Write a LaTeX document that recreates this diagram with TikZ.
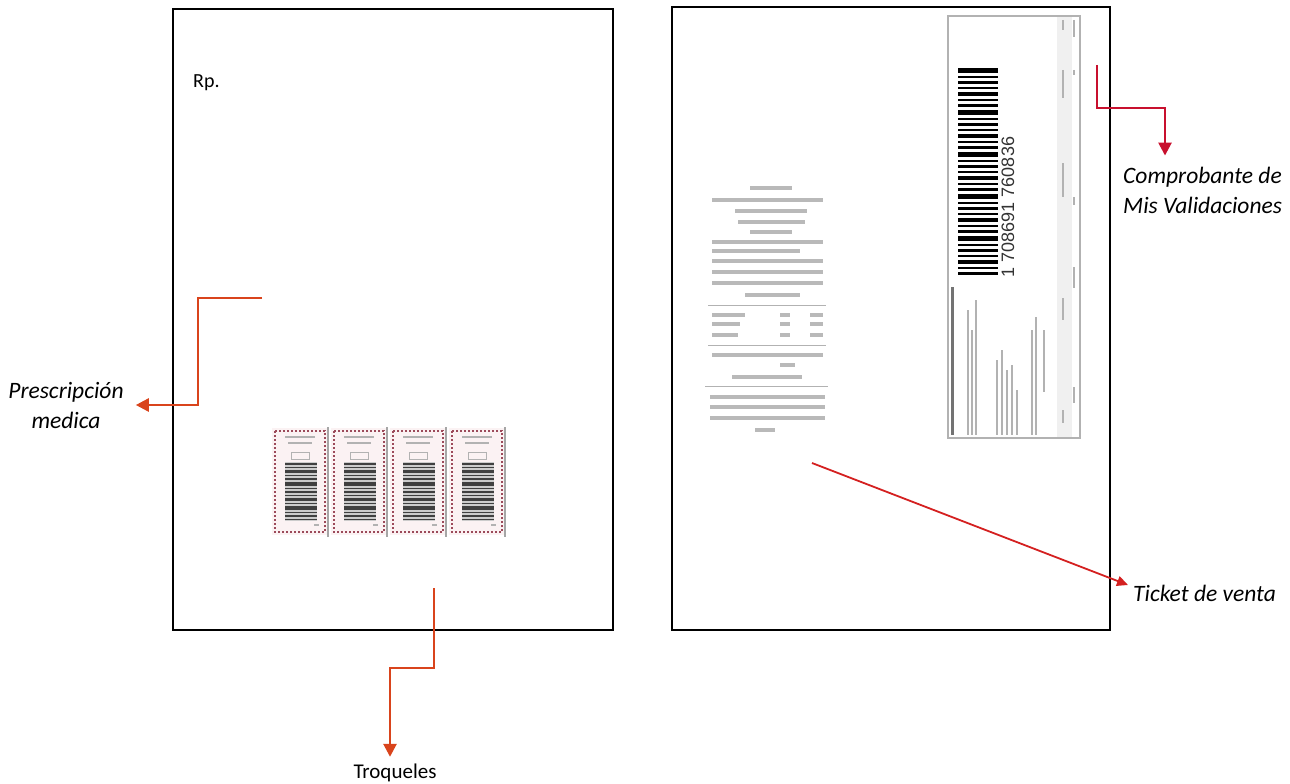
\documentclass[tikz,border=0pt]{standalone}
\usepackage{fontspec}
\setmainfont{Carlito}
\newfontfamily\numfont{Liberation Sans}
\usetikzlibrary{calc}
\usetikzlibrary{positioning}
\usetikzlibrary{arrows.meta}
\definecolor{arroworange}{HTML}{D9441C}
\definecolor{arrowred}{HTML}{C8102E}
\definecolor{ticketred}{HTML}{D42020}
\definecolor{troqborder}{HTML}{9C4A5A}
\definecolor{troqfill}{HTML}{FBF2F3}

\begin{document}
\begin{tikzpicture}[x=1pt, y=-1pt, >={Triangle[length=13pt,width=13pt]},
  sheet/.style={draw=black, line width=1.4pt},
  pointer/.style={->, line width=2.6pt, arroworange},
  callout/.style={font=\fontsize{23.5}{30}\selectfont\itshape, inner sep=0pt},
  textbar/.style={line width=3.5pt, gray!55},
  vbar/.style={line width=2pt, gray!60}]
\useasboundingbox (0,0) rectangle (1290,784);
\draw[sheet] (173,9) rectangle (613,630);
\draw[sheet] (672,7) rectangle (1110,630);
\node[anchor=west, font=\fontsize{20}{24}\selectfont, inner sep=0pt] (rp) at (193,83) {Rp.};

\foreach \i in {0,...,3}{
  \begin{scope}[xshift=59*\i]
    \fill[troqfill] (272,428) rectangle (328,535);
    \draw[troqborder, line width=2pt, dash pattern=on 2pt off 2pt] (275,431) rectangle (325,532);
    \draw[gray!70, line width=1.2pt] (328,427) -- (328,537);
    \draw[gray!60, line width=1.5pt] (285,437) -- (315,437);
    \draw[gray!60, line width=1.5pt] (288,443) -- (312,443);
    \draw[gray!60, line width=0.8pt] (291,452) rectangle (309,459);
    \fill[gray!40] (285,462) rectangle (317,521);
    \foreach \yy/\w in {463/2,467/1,470/3,475/1,478/2,482/4,488/1,491/2,495/1,498/3,503/1,506/4,512/1,515/2,519/1}
      \fill[black!75] (285,\yy) rectangle (317,\yy+\w);
    \draw[gray!60, line width=1.5pt] (314,525) -- (319,525);
  \end{scope}
}

\foreach \yy/\xa/\xb in {188/750/792, 200/712/823, 211/735/807, 222/738/805, 232/750/792,
    242/712/823, 251/712/800, 261/712/823, 272/712/823, 283/712/823, 295/745/800,
    315/712/745, 315/780/790, 315/810/823, 324/712/740, 324/780/790, 324/810/823,
    335/712/738, 335/780/790, 335/810/823, 355/712/823, 365/780/795, 377/732/802,
    397/710/825, 407/710/825, 418/710/825, 430/755/775}
  \draw[textbar] (\xa,\yy) -- (\xb,\yy);
\draw[gray!60, line width=1pt] (708,305) -- (826,305);
\draw[gray!60, line width=1pt] (708,345) -- (826,345);
\draw[gray!60, line width=1pt] (705,386) -- (828,386);

\fill[gray!12] (1057,17) rectangle (1072,437);
\draw[gray!60, line width=1.5pt] (948,16) rectangle (1080,438);
\foreach \yy/\w in {68/5,76/2,81/3,87/2,92/4,99/2,104/3,110/5,118/2,123/3,129/2,134/4,141/2,
    146/3,152/5,160/2,165/3,171/2,176/4,183/2,188/3,194/5,202/2,207/3,213/2,218/4,225/2,
    230/3,236/5,244/2,249/3,255/2,260/4,267/2,272/3}
  \fill[black] (958,\yy) rectangle (998,\yy+\w);
\node[rotate=90, font=\numfont\fontsize{18}{18}\selectfont, text=black!80, inner sep=0pt] (barnum) at (1008,207) {1 708691 760836};
\draw[vbar, line width=3pt, black!55] (952,287) -- (952,435);
\foreach \xx/\ya/\yb in {968/310/435, 972/330/435, 976/300/435, 997/360/435, 1002/350/435,
    1007/370/435, 1012/365/435, 1017/390/435, 1032/330/435, 1036/317/435, 1044/330/392,
    1063/20/30, 1063/70/98, 1063/163/197, 1063/298/320, 1063/410/423,
    1074/20/37, 1074/70/75, 1074/197/205, 1074/267/288, 1074/387/403}
  \draw[vbar] (\xx,\ya) -- (\xx,\yb);

\coordinate (prescstart) at (262,298);
\node[callout, align=center] (presc) at (66,405) {Prescripción\\medica};
\draw[pointer, shorten >=12pt] (prescstart) -| (198,405) -- (presc.east);

\coordinate (troqstart) at (434,588);
\node[font=\fontsize{21}{24}\selectfont, inner sep=0pt] (troq) at (395,773) {Troqueles};
\draw[pointer, shorten >=7pt] (troqstart) |- (390,668) -- (troq.north -| 390,668);

\coordinate (compstart) at (1097,65);
\coordinate (compbend) at (1165,108);
\node[callout, align=left, anchor=west] (comp) at (1123,190) {Comprobante de\\Mis Validaciones};
\draw[pointer, arrowred, shorten >=11pt] (compstart) |- (compbend) -- (compbend |- comp.north);

\coordinate (tickstart) at (812,463);
\node[callout, anchor=west] (tick) at (1133,593) {Ticket de venta};
\draw[->, ticketred, line width=1.8pt, >={Triangle[length=11pt,width=10pt]}] (tickstart) -- ($(tick.west)+(-5,-8)$);
\end{tikzpicture}
\end{document}
